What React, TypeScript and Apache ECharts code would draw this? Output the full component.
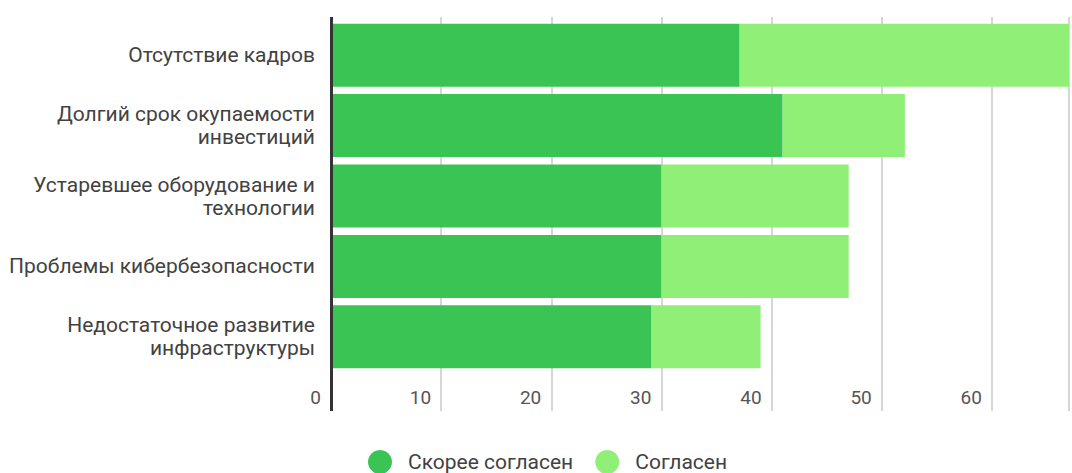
import React, { useEffect, useRef } from "react";
import * as echarts from "echarts";

const categories = [
  "Отсутствие кадров",
  "Долгий срок окупаемости\nинвестиций",
  "Устаревшее оборудование и\nтехнологии",
  "Проблемы кибербезопасности",
  "Недостаточное развитие\nинфраструктуры",
];
const seriesNames = ["Скорее согласен", "Согласен"];
const rather = [37.1, 41.0, 30.0, 30.0, 29.1];
const agree = [31.0, 11.1, 17.0, 17.0, 9.9];
const xTicks = [0, 10, 20, 30, 40, 50, 60];

const DARK = "#3ac454";
const LIGHT = "#90ef76";
const TEXT = "#424242";
const GRIDC = "#c8c8c8";

export default function App() {
  const ref = useRef<HTMLDivElement>(null);
  useEffect(() => {
    if (!ref.current) return;
    const chart = echarts.init(ref.current, undefined, { renderer: "svg" });
    const font = "Roboto";
    const option: any = {
      animation: false,
      textStyle: { fontFamily: font },
      grid: { left: 331, right: 0, top: 20, bottom: 101, containLabel: false },
      legend: {
        left: 368,
        top: 450,
        padding: 0,
        icon: "circle",
        itemWidth: 24,
        itemHeight: 24,
        itemGap: 22,
        data: seriesNames,
        textStyle: {
          fontSize: 21,
          lineHeight: 22,
          color: TEXT,
          fontFamily: font,
          padding: [0, 0, 0, 11],
        },
      },
      xAxis: [
        {
          type: "value",
          min: 0,
          max: 67,
          interval: 10,
          position: "bottom",
          axisLine: { show: false },
          axisTick: { show: true, length: 39, lineStyle: { color: GRIDC, width: 1.5 } },
          splitLine: { show: true, lineStyle: { color: GRIDC, width: 1.5 } },
          axisLabel: {
            show: true,
            fontSize: 19,
            color: "#555",
            fontFamily: font,
            align: "right",
            margin: 16,
            padding: [0, 10, 0, 0],
            formatter: (v: number) => (xTicks.indexOf(v) >= 0 ? String(v) : ""),
          },
        },
        {
          type: "value",
          min: 0,
          max: 67,
          interval: 10,
          position: "top",
          axisLine: { show: false },
          axisTick: { show: true, length: 3, lineStyle: { color: GRIDC, width: 1.5 } },
          splitLine: { show: false },
          axisLabel: { show: false },
        },
      ],
      yAxis: {
        type: "category",
        inverse: true,
        data: categories,
        axisLine: { show: false },
        axisTick: { show: false },
        axisLabel: {
          fontSize: 21,
          color: TEXT,
          fontFamily: font,
          margin: 16,
          align: "right",
          lineHeight: 23,
        },
      },
      series: [
        {
          name: seriesNames[0],
          type: "bar",
          stack: "total",
          data: rather,
          barCategoryGap: "10.5%",
          itemStyle: { color: DARK },
          clip: true,
        },
        {
          name: seriesNames[1],
          type: "bar",
          stack: "total",
          data: agree,
          barCategoryGap: "10.5%",
          itemStyle: { color: LIGHT },
          clip: true,
        },
      ],
    };
    chart.setOption(option);
    const x0 = chart.convertToPixel({ xAxisIndex: 0 }, 0) as number;
    chart.setOption({
      graphic: [
        {
          type: "line",
          shape: { x1: x0 + 0.5, y1: 17, x2: x0 + 0.5, y2: 411 },
          style: { stroke: "#333", lineWidth: 3 },
          z: 100,
        },
      ],
    });
    return () => chart.dispose();
  }, []);
  return (
    <div
      ref={ref}
      style={{ position: "fixed", left: 0, top: 0, width: 1072, height: 473, background: "#fff" }}
    />
  );
}
